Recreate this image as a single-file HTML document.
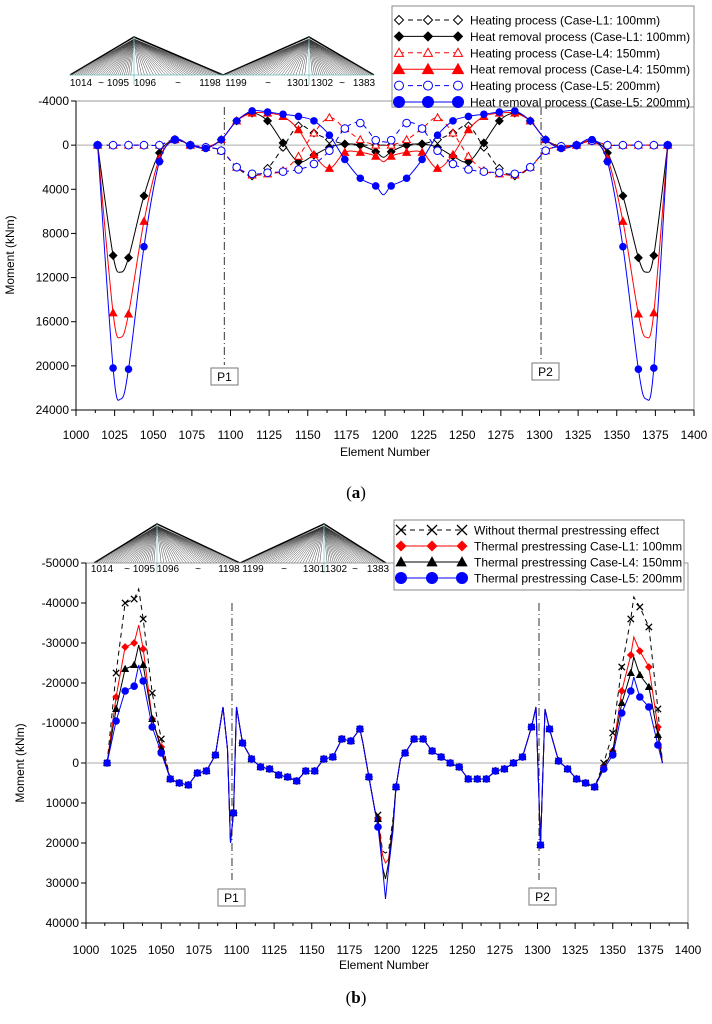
<!DOCTYPE html>
<html><head><meta charset="utf-8"><style>
body{margin:0;background:#fff;}
svg{display:block;font-family:"Liberation Sans",Arial,sans-serif;}
</style></head><body>
<svg id="root" width="712" height="1024" viewBox="0 0 712 1024">
<g id="topg"></g>
<g id="botg"></g>
<text x="356" y="498" text-anchor="middle" font-family="Liberation Serif,serif" font-size="17">(<tspan font-weight="bold">a</tspan>)</text>
<text x="356" y="1003" text-anchor="middle" font-family="Liberation Serif,serif" font-size="17">(<tspan font-weight="bold">b</tspan>)</text>
</svg>
<script>
// ---------- Chart (a) data ----------
const xsA=[1014,1024,1029,1034,1044,1054,1064,1074,1084,1094,1104,1114,1124,1134,1144,1154,1164,1174,1184,1194,1199,1204,1214,1224,1234,1244,1254,1264,1274,1284,1294,1304,1314,1324,1334,1344,1354,1364,1369,1374,1383];
const heatL1=[0,0,0,0,0,0,-500,0,200,500,2000,2800,2100,200,-1750,-1100,-500,-100,0,0,0,0,0,-100,-500,-1100,-1750,200,2100,2800,2000,500,100,0,-400,0,0,0,0,0,0];
const remL1=[0,10000,11500,10200,4600,700,-500,0,200,-500,-2200,-2900,-2200,-200,1500,900,200,-100,0,600,1100,600,0,-100,200,1000,1500,-200,-2200,-2900,-2200,-500,100,0,-400,700,4600,10200,11500,10000,0];
const heatL4=[0,0,0,0,0,0,-500,0,200,500,2000,2700,2600,2300,1000,-1100,-2500,-1500,-500,0,0,0,-500,-1500,-2500,-1100,1000,2300,2600,2700,2000,500,100,0,-400,0,0,0,0,0,0];
const remL4=[0,15200,17400,15300,6900,1200,-500,0,200,-500,-2200,-2900,-2900,-2600,-1400,850,2100,650,650,1000,1500,1000,650,650,2100,850,-1400,-2600,-2900,-2900,-2200,-500,200,0,-400,1200,6900,15300,17400,15200,0];
const heatL5=[0,0,0,0,0,0,-500,0,200,500,2000,2600,2500,2400,2200,1700,500,-1500,-2000,-450,-300,-450,-2000,-1500,500,1700,2200,2400,2500,2600,2000,500,100,0,-400,0,0,0,0,0,0];
const remL5=[0,20200,23000,20300,9200,1500,-500,0,300,-500,-2200,-3100,-3000,-2800,-2600,-2200,-900,1300,3000,3700,4500,3700,3000,1300,-900,-2200,-2600,-2800,-3000,-3100,-2200,-500,300,0,-500,1500,9200,20300,23000,20200,0];
const yTicksA=[-4000,0,4000,8000,12000,16000,20000,24000];
const xTicks=[1000,1025,1050,1075,1100,1125,1150,1175,1200,1225,1250,1275,1300,1325,1350,1375,1400];
// ---------- Chart (b) data ----------
const xsB=[1014,1020,1026,1032,1035,1038,1044,1050,1056,1062,1068,1074,1080,1086,1091,1094,1096,1098,1100,1104,1110,1116,1122,1128,1134,1140,1146,1152,1158,1164,1170,1176,1182,1184,1188,1192,1194,1197,1199,1201,1204,1206,1209,1212,1218,1224,1230,1236,1242,1248,1254,1260,1266,1272,1278,1284,1290,1296,1299,1302,1305,1308,1314,1320,1326,1332,1338,1344,1350,1356,1362,1364,1368,1374,1380,1383];
const without=[0,-22500,-40000,-41000,-43500,-36000,-17500,-6000,4000,5000,5500,2500,2000,-2000,-14000,-3500,20000,12500,-14000,-5000,-1000,1000,1500,3000,3500,4500,2000,2000,-1000,-1500,-6000,-5500,-8500,-5000,3500,12000,13000,22000,22500,22000,14000,6000,-1000,-2500,-6000,-6000,-3000,-1500,0,1000,4000,4000,4000,2000,1500,0,-1500,-9000,-14000,20500,-13500,-8500,-500,1500,4000,5000,6000,0,-7500,-24000,-36000,-41500,-39000,-34000,-13500,0];
const tpL1=[0,-16500,-29000,-30000,-34500,-28500,-11000,-4000,4000,5000,5500,2500,2000,-2000,-14000,-3500,20000,12500,-14000,-5000,-1000,1000,1500,3000,3500,4500,2000,2000,-1000,-1500,-6000,-5500,-8500,-5000,3500,12000,14000,23000,25000,24000,15500,6000,-1000,-2500,-6000,-6000,-3000,-1500,0,1000,4000,4000,4000,2000,1500,0,-1500,-9000,-14000,20500,-13500,-8500,-500,1500,4000,5000,6000,1000,-3000,-18000,-27000,-31500,-28000,-24000,-9000,0];
const tpL4=[0,-13500,-23500,-24500,-29500,-24500,-11000,-3500,4000,5000,5500,2500,2000,-2000,-14000,-3500,20000,12500,-14000,-5000,-1000,1000,1500,3000,3500,4500,2000,2000,-1000,-1500,-6000,-5500,-8500,-5000,3500,12000,14000,26000,29000,25000,15000,6000,-1000,-2500,-6000,-6000,-3000,-1500,0,1000,4000,4000,4000,2000,1500,0,-1500,-9000,-14000,20500,-13500,-8500,-500,1500,4000,5000,6000,1000,-3000,-15000,-22500,-26500,-22000,-19000,-7000,0];
const tpL5=[0,-10500,-18000,-19200,-24500,-20500,-9000,-2500,4000,5000,5500,2500,2000,-2000,-14000,-3500,20000,12500,-14000,-5000,-1000,1000,1500,3000,3500,4500,2000,2000,-1000,-1500,-6000,-5500,-8500,-5000,3500,12000,16000,26000,34000,26500,17000,6000,-1000,-2500,-6000,-6000,-3000,-1500,0,1000,4000,4000,4000,2000,1500,0,-1500,-9000,-14000,20500,-13500,-8500,-500,1500,4000,5000,6000,1500,-2000,-12500,-18000,-21500,-16500,-14000,-4500,0];
const yTicksB=[-50000,-40000,-30000,-20000,-10000,0,10000,20000,30000,40000];

const NS="http://www.w3.org/2000/svg";
function mk(parent,tag,attrs,text){const e=document.createElementNS(NS,tag);for(const k in attrs)e.setAttribute(k,attrs[k]);if(text!==undefined)e.textContent=text;parent.appendChild(e);return e;}
function smoothPath(pts){let d="M"+pts[0][0]+","+pts[0][1];for(let i=0;i<pts.length-1;i++){const p0=pts[Math.max(0,i-1)],p1=pts[i],p2=pts[i+1],p3=pts[Math.min(pts.length-1,i+2)];const c1=[p1[0]+(p2[0]-p0[0])/6,p1[1]+(p2[1]-p0[1])/6],c2=[p2[0]-(p3[0]-p1[0])/6,p2[1]-(p3[1]-p1[1])/6];d+=" C"+c1[0].toFixed(1)+","+c1[1].toFixed(1)+" "+c2[0].toFixed(1)+","+c2[1].toFixed(1)+" "+p2[0].toFixed(1)+","+p2[1].toFixed(1);}return d;}
function marker(g,type,x,y,color,filled,s){
  let e;
  if(type==="diamond"){e=mk(g,"path",{d:`M${x},${y-s} L${x+s},${y} L${x},${y+s} L${x-s},${y} Z`,fill:filled?color:"#fff",stroke:color,"stroke-width":1});}
  else if(type==="tri"){e=mk(g,"path",{d:`M${x},${y-s} L${x+s},${y+s*0.8} L${x-s},${y+s*0.8} Z`,fill:filled?color:"#fff",stroke:color,"stroke-width":1});}
  else if(type==="circle"){e=mk(g,"circle",{cx:x,cy:y,r:s,fill:filled?color:"#fff",stroke:color,"stroke-width":1});}
  else {e=mk(g,"path",{d:`M${x-s},${y-s} L${x+s},${y+s} M${x+s},${y-s} L${x-s},${y+s}`,stroke:color,"stroke-width":1.3,fill:"none"});}
  
  
  return e;
}
function bridge(g,x0,xm,x1,a1,a2,yb,ya,labels,ly){
  const bg=mk(g,"g",{});
  
  
  [[x0,a1,xm],[xm,a2,x1]].forEach(([l,a,r])=>{
    mk(bg,"path",{d:`M${l},${yb} L${a},${ya} L${r},${yb}`,fill:"none",stroke:"#000","stroke-width":1.5});
    for(let i=0;i<=28;i++){const t=i/28;mk(bg,"line",{x1:a,y1:ya+2,x2:l+(a-l)*t*0.95,y2:yb,stroke:"#333","stroke-width":0.45});mk(bg,"line",{x1:a,y1:ya+2,x2:r-(r-a)*t*0.95,y2:yb,stroke:"#333","stroke-width":0.45});}
    mk(bg,"line",{x1:a,y1:ya,x2:a,y2:yb+10,stroke:"#7cc","stroke-width":0.8});
  });
  mk(bg,"line",{x1:x0,y1:yb,x2:x1,y2:yb,stroke:"#6bb","stroke-width":0.8});
  labels.forEach(([t,x])=>{const e=mk(bg,"text",{x:x,y:ly,"font-size":10,"text-anchor":"middle"},t);});
}

// ---------- Chart A ----------
(function(){
const g=document.getElementById("topg");
const X0=76,X1=694,Y0=101,Y1=410;
const sx=v=>X0+(v-1000)/400*(X1-X0);
const sy=v=>Y0+(v+4000)/28000*(Y1-Y0);
bridge(g,70,223,374,134,309,75,37,[["1014",81],["~",101],["1095",118],["1096",145],["~",178],["1198",210],["1199",236],["~",268],["1301",298],["1302",322],["~",342],["1383",364]],86);
const frame=mk(g,"rect",{x:X0,y:Y0,width:X1-X0,height:Y1-Y0,fill:"none",stroke:"#999","stroke-width":1});

mk(g,"line",{x1:X0,y1:Y0,x2:X0,y2:Y1,stroke:"#000","stroke-width":1});
mk(g,"line",{x1:X0,y1:Y1,x2:X1,y2:Y1,stroke:"#000","stroke-width":1});
const zl=mk(g,"line",{x1:X0,y1:sy(0),x2:X1,y2:sy(0),stroke:"#aaa","stroke-width":1});

yTicksA.forEach(v=>{mk(g,"line",{x1:X0-5,y1:sy(v),x2:X0,y2:sy(v),stroke:"#000"});const t=mk(g,"text",{x:X0-7,y:sy(v)+4,"font-size":12,"text-anchor":"end"},String(v));});
for(let v=1000;v<=1400;v+=12.5){mk(g,"line",{x1:sx(v),y1:Y1,x2:sx(v),y2:Y1+(v%25===0?6:3),stroke:"#000"});}
xTicks.forEach(v=>{const t=mk(g,"text",{x:sx(v),y:439,"font-size":12,"text-anchor":"middle"},String(v));});
const xt=mk(g,"text",{x:385,y:456,"font-size":12,"text-anchor":"middle"},"Element Number");
const yt=mk(g,"text",{x:0,y:0,"font-size":12,"text-anchor":"middle",transform:`translate(14,255) rotate(-90)`},"Moment (kNm)");
[[1096,368,211],[1301,363,532]].forEach(([p,by,bx],i)=>{
  const l=mk(g,"line",{x1:sx(p),y1:Y0+6,x2:sx(p),y2:by-3,stroke:"#333","stroke-dasharray":"8,3,1,3","stroke-width":1});
  
  mk(g,"rect",{x:bx,y:by,width:27,height:17,fill:"#fff",stroke:"#777"});
  const t=mk(g,"text",{x:bx+13.5,y:by+13,"font-size":12,"text-anchor":"middle"},"P"+(i+1));
});
const series=[[heatL1,"#000",false,"diamond",true,"Heating process (Case-L1: 100mm)","heating-l1"],[remL1,"#000",true,"diamond",false,"Heat removal process (Case-L1: 100mm)","heat-removal-l1"],[heatL4,"#f00",false,"tri",true,"Heating process (Case-L4: 150mm)","heating-l4"],[remL4,"#f00",true,"tri",false,"Heat removal process (Case-L4: 150mm)","heat-removal-l4"],[heatL5,"#00f",false,"circle",true,"Heating process (Case-L5: 200mm)","heating-l5"],[remL5,"#00f",true,"circle",false,"Heat removal process (Case-L5: 200mm)","heat-removal-l5"]];
series.forEach(([vals,c,filled,type,dashed,label,nm])=>{
  const sg=mk(g,"g",{});
  const pts=xsA.map((x,i)=>[sx(x),sy(vals[i])]);
  const p=mk(sg,"path",{d:smoothPath(pts),fill:"none",stroke:c,"stroke-width":1,"stroke-dasharray":dashed?"5,4":"none"});
  
  xsA.forEach((x,i)=>{if(x===1029||x===1199||x===1369)return;marker(sg,type,sx(x),sy(vals[i]),c,filled,type==="circle"?(filled?3.3:3.8):3.8);});
});
const lg=mk(g,"g",{});
mk(lg,"rect",{x:392,y:6,width:302,height:101,fill:"#fff",stroke:"#888"});
series.forEach(([vals,c,filled,type,dashed,label,nm],i)=>{
  const y=20+i*16.4;
  const eg=mk(lg,"g",{});
  mk(eg,"line",{x1:399,y1:y,x2:458,y2:y,stroke:c,"stroke-width":1,"stroke-dasharray":dashed?"5,4":"none"});
  [399,428,458].forEach(x=>marker(eg,type,x,y,c,filled,filled&&type!=="diamond"?5.5:4.5));
  mk(eg,"text",{x:470,y:y+4.5,"font-size":12},label);
});
})();

// ---------- Chart B ----------
(function(){
const g=document.getElementById("botg");
const X0=86,X1=688,Y0=563,Y1=923;
const sx=v=>X0+(v-1000)/400*(X1-X0);
const sy=v=>Y0+(v+50000)/90000*(Y1-Y0);
bridge(g,94,240,386,157,324,563,524,[["1014",102],["~",127],["1095",144],["1096",168],["~",198],["1198",229],["1199",253],["~",284],["1301",314],["1302",336],["~",355],["1383",378]],572);
const frame=mk(g,"rect",{x:X0,y:Y0,width:X1-X0,height:Y1-Y0,fill:"none",stroke:"#999","stroke-width":1});

mk(g,"line",{x1:X0,y1:Y0,x2:X0,y2:Y1,stroke:"#000","stroke-width":1});
mk(g,"line",{x1:X0,y1:Y1,x2:X1,y2:Y1,stroke:"#000","stroke-width":1});
const zl=mk(g,"line",{x1:X0,y1:sy(0),x2:X1,y2:sy(0),stroke:"#aaa","stroke-width":1});

yTicksB.forEach(v=>{mk(g,"line",{x1:X0-5,y1:sy(v),x2:X0,y2:sy(v),stroke:"#000"});const t=mk(g,"text",{x:X0-7,y:sy(v)+4,"font-size":12,"text-anchor":"end"},String(v));});
for(let v=1000;v<=1400;v+=12.5){mk(g,"line",{x1:sx(v),y1:Y1,x2:sx(v),y2:Y1+(v%25===0?6:3),stroke:"#000"});}
xTicks.forEach(v=>{const t=mk(g,"text",{x:sx(v),y:954,"font-size":12,"text-anchor":"middle"},String(v));});
const xt=mk(g,"text",{x:384,y:969,"font-size":12,"text-anchor":"middle"},"Element Number");
const yt=mk(g,"text",{x:0,y:0,"font-size":12,"text-anchor":"middle",transform:`translate(24,763) rotate(-90)`},"Moment (kNm)");
[[1097,889,218],[1301,888,529]].forEach(([p,by,bx],i)=>{
  const l=mk(g,"line",{x1:sx(p),y1:603,x2:sx(p),y2:880,stroke:"#333","stroke-dasharray":"8,3,1,3","stroke-width":1});
  
  mk(g,"rect",{x:bx,y:by,width:27,height:17,fill:"#fff",stroke:"#777"});
  const t=mk(g,"text",{x:bx+13.5,y:by+13,"font-size":12,"text-anchor":"middle"},"P"+(i+1));
});
const series=[[without,"#000","x",true,"Without thermal prestressing effect","without-thermal"],[tpL1,"#f00","diamond",false,"Thermal prestressing Case-L1: 100mm","thermal-l1"],[tpL4,"#000","tri",false,"Thermal prestressing Case-L4: 150mm","thermal-l4"],[tpL5,"#00f","circle",false,"Thermal prestressing Case-L5: 200mm","thermal-l5"]];
series.forEach(([vals,c,type,dashed,label,nm])=>{
  const sg=mk(g,"g",{});
  const d=xsB.map((x,i)=>(i?"L":"M")+sx(x).toFixed(1)+","+sy(vals[i]).toFixed(1)).join(" ");
  const p=mk(sg,"path",{d:d,fill:"none",stroke:c,"stroke-width":1,"stroke-dasharray":dashed?"5,4":"none"});
  
  xsB.forEach((x,i)=>{if((x-1014)%6!==0)return;marker(sg,type,sx(x),sy(vals[i]),c,true,type==="circle"?3.3:3.2);});
});
const lg=mk(g,"g",{});
mk(lg,"rect",{x:394,y:520,width:290,height:70,fill:"#fff",stroke:"#888"});
series.forEach(([vals,c,type,dashed,label,nm],i)=>{
  const y=530+i*16;
  const eg=mk(lg,"g",{});
  mk(eg,"line",{x1:401,y1:y,x2:462,y2:y,stroke:c,"stroke-width":1,"stroke-dasharray":dashed?"5,4":"none"});
  [401,432,462].forEach(x=>marker(eg,type,x,y,c,true,type==="circle"?5.5:(type==="x"?5:4.8)));
  mk(eg,"text",{x:474,y:y+4.5,"font-size":12},label);
});
})();
</script>
</body></html>
